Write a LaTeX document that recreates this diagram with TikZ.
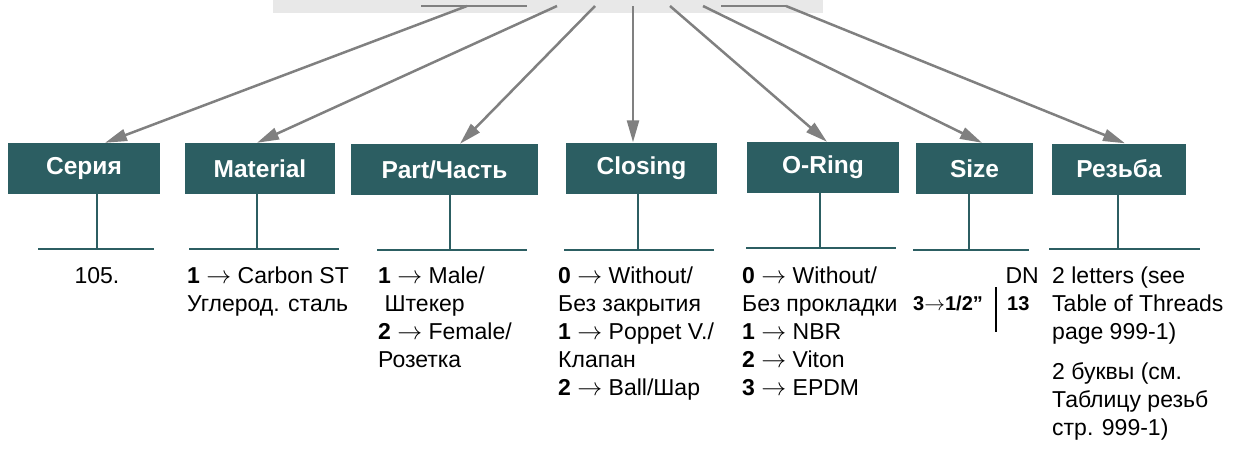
\documentclass[tikz,border=0pt]{standalone}
\usepackage{fontspec}
\setmainfont{Liberation Sans}
\usetikzlibrary{arrows.meta}
\definecolor{tealbox}{RGB}{44,94,98}
\definecolor{arrgray}{RGB}{128,128,128}
\definecolor{bggray}{RGB}{232,232,232}
\newcommand{\rarr}{$\rightarrow$}
\begin{document}
\begin{tikzpicture}[x=1pt,y=-1pt,
 box/.style={fill=tealbox, text=white, font=\fontsize{24.5}{28}\selectfont\bfseries, minimum height=51pt, inner sep=0pt},
 arr/.style={draw=arrgray, line width=2.5pt, -{Triangle[length=22pt,width=12pt]}},
 stemline/.style={draw=tealbox, line width=2pt},
 txt/.style={font=\fontsize{23}{28}\selectfont, anchor=north west, inner sep=0pt, align=left},
 sizetext/.style={font=\fontsize{20}{22}\selectfont\bfseries, inner sep=0pt},
]
\useasboundingbox (0,0) rectangle (1247,450);
% top bar
\fill[bggray] (273,0) rectangle (823,13);
\draw[arrgray, line width=2.5pt] (421,6) -- (527,6);
\draw[arrgray, line width=2.5pt] (721,6) -- (786,6);
\coordinate (s1) at (467,6);
\coordinate (s2) at (557,6);
\coordinate (s3) at (595,6);
\coordinate (s4) at (633,6);
\coordinate (s5) at (670,6);
\coordinate (s6) at (703,6);
\coordinate (s7) at (786,6);
% boxes
\node[box, minimum width=152pt] (serie) at (84,168.5) {Серия};
\node[box, minimum width=150pt] (material) at (260,168.5) {Material};
\node[box, minimum width=187pt] (part) at (444.5,169.5) {Part/Часть};
\node[box, minimum width=151pt] (closing) at (641.5,168) {Closing};
\node[box, minimum width=152pt] (oring) at (823,167.5) {O-Ring};
\node[box, minimum width=117pt] (size) at (974.5,168.5) {Size};
\node[box, minimum width=134pt] (thread) at (1119,169) {Резьба};
% arrows
\draw[arr] (s1) -- (serie.north -| 105,0);
\draw[arr] (s2) -- (material.north -| 257,0);
\draw[arr] (s3) -- (part.north -| 460,0);
\draw[arr] (s4) -- (closing.north -| 633,0);
\draw[arr] (s5) -- (oring.north -| 827,0);
\draw[arr] (s6) -- (size.north -| 982,0);
\draw[arr] (s7) -- (thread.north -| 1125,0);
% stems
\draw[stemline] (serie.south -| 97,0) -- (97,249);
\draw[stemline] (38,249) -- (154,249);
\draw[stemline] (material.south -| 257,0) -- (257,249);
\draw[stemline] (189,249) -- (339,249);
\draw[stemline] (part.south -| 450,0) -- (450,250);
\draw[stemline] (377,250) -- (527,250);
\draw[stemline] (closing.south -| 638,0) -- (638,250);
\draw[stemline] (564,250) -- (714,250);
\draw[stemline] (oring.south -| 820,0) -- (820,248);
\draw[stemline] (746,248) -- (896,248);
\draw[stemline] (size.south -| 969,0) -- (969,250);
\draw[stemline] (913,250) -- (1029,250);
\draw[stemline] (thread.south -| 1118,0) -- (1118,249);
\draw[stemline] (1049,249) -- (1200,249);
% texts
\node[font=\fontsize{23}{28}\selectfont, anchor=base, inner sep=0pt] (t1) at (97,283) {105.};
\node[txt] (t2) at (187,263.4) {\strut\textbf{1} \rarr{} Carbon ST\\Углерод. сталь};
\node[txt] (t3) at (378,263.4) {\strut\textbf{1} \rarr{} Male/\\\ Штекер\\\textbf{2} \rarr{} Female/\\Розетка};
\node[txt] (t4) at (558,263.4) {\strut\textbf{0} \rarr{} Without/\\Без закрытия\\\textbf{1} \rarr{} Poppet V./\\Клапан\\\textbf{2} \rarr{} Ball/Шар};
\node[txt] (t5) at (742,263.4) {\strut\textbf{0} \rarr{} Without/\\Без прокладки\\\textbf{1} \rarr{} NBR\\\textbf{2} \rarr{} Viton\\\textbf{3} \rarr{} EPDM};
\node[font=\fontsize{23}{28}\selectfont, anchor=base east, inner sep=0pt] (dn) at (1039,283) {DN};
\node[sizetext, anchor=base west] (sz) at (913,310) {3\rarr1/2”};
\node[sizetext, anchor=base west] (d13) at (1007,310) {13};
\draw[black, line width=2pt] (996,287) -- (996,332);
\node[txt] (t7) at (1052,263.4) {\strut 2 letters (see\\Table of Threads\\page 999-1)\\[12pt]2 буквы (см.\\Таблицу резьб\\стр. 999-1)};
\end{tikzpicture}
\end{document}
